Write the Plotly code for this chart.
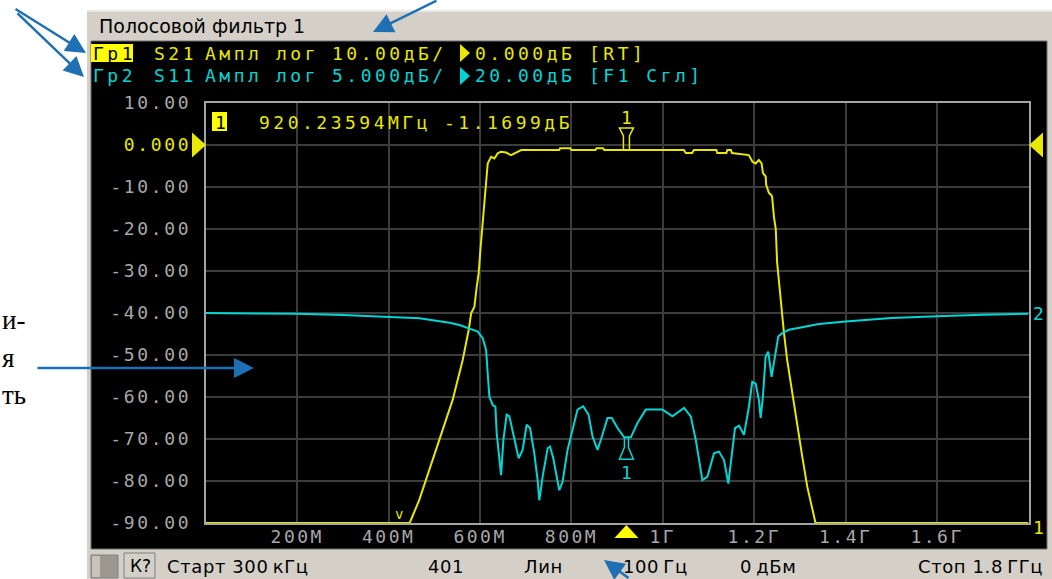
import plotly.graph_objects as go

W, H = 1052, 579
def px(x): return x / W
def py(y): return 1 - y / H

# ---------------- data ----------------
S21_FREQ_MHZ = [0.3, 446, 467, 511, 540, 562, 571.7, 575.2, 580.4, 587.6, 592.7, 597, 600.7, 604.4,
                607.3, 613.2, 616.7, 620.4, 624.1, 631.3, 638.5, 646, 656.9, 667.8, 678.7, 686, 690,
                773, 775, 797, 800, 852, 855, 869, 872, 920.24, 1046, 1050, 1064, 1068, 1117, 1119,
                1139, 1141, 1149, 1151, 1184, 1188, 1196, 1203, 1210, 1216, 1219, 1225, 1226, 1232,
                1237, 1239, 1243, 1247, 1250, 1254, 1258, 1261, 1265, 1272, 1283, 1294, 1305, 1316,
                1330, 1334, 1800]
S21_DB = [-90, -90, -84.5, -70.2, -60.7, -51.2, -46.4, -44, -40.1, -38.5, -33.7, -30.5, -25, -20.2,
          -14.7, -9.1, -4.4, -3.6, -2.8, -3.2, -2.0, -1.6, -1.8, -2.4, -1.8, -1.4, -1.2,
          -1.2, -0.8, -0.8, -1.2, -1.2, -0.8, -0.8, -1.2, -1.17, -1.2, -1.9, -1.9, -1.2, -1.2, -1.9,
          -1.9, -1.2, -1.2, -1.9, -2.2, -2.4, -4.0, -4.4, -3.6, -4.4, -6.7, -7.5, -9.5, -11.4,
          -11.9, -12.3, -17.1, -20, -28, -33, -37.6, -40, -44.8, -51.2, -59.1, -67.1, -74.2, -81.4,
          -88.5, -90, -90]

S11_FREQ_MHZ = [0.3, 100, 200, 300, 400, 467.5, 493, 533, 554.9, 576.7, 594.8, 605.8, 613.2, 616.7,
                620.4, 627.6, 633.5, 636.3, 642.2, 646, 651, 658.2, 664.1, 675, 684.4, 693.1, 701.9,
                709.3, 718.7, 725.9, 729.6, 736.8, 747.8, 753, 760.2, 773.3, 780.5, 791.4, 803.9,
                813.3, 825.7, 837.3, 846.1, 857, 866.6, 878.8, 888.4, 900.7, 915.3, 920.24, 929.9,
                944.4, 962.7, 999, 1020.8, 1046.4, 1061, 1072, 1086.4, 1097.3, 1111.9, 1122.8,
                1133.8, 1143.2, 1151.9, 1157.8, 1166.5, 1177.5, 1188.4, 1195.6, 1203, 1210.2, 1213.9,
                1218.9, 1224.8, 1230.5, 1237.9, 1245.1, 1252.4, 1261.1, 1275.8, 1304.8, 1341.3,
                1400, 1500, 1600, 1700, 1800]
S11_DB = [0.0, -0.05, -0.1, -0.25, -0.45, -0.63, -0.83, -1.15, -1.43, -1.82, -2.22, -3.0, -4.4, -7.2,
          -9.96, -10.95, -11.15, -14.3, -17.9, -19.3, -15.1, -12.1, -12.3, -15.1, -17.3, -16.3, -13.3,
          -13.7, -16.7, -19.9, -22.3, -19.5, -16.1, -15.9, -17.3, -21.1, -20.1, -16.3, -13.5,
          -11.5, -11.1, -12.1, -14.7, -16.3, -14.7, -12.5, -12.5, -13.7, -14.8, -14.8, -14.8,
          -13.1, -11.5, -11.5, -12.3, -11.3, -12.3, -15.1, -19.9, -19.5, -16.7, -16.5,
          -17.5, -20.3, -16.7, -13.7, -13.4, -14.5, -11.1, -8.2, -8.4, -10.4, -12.5,
          -9.96, -5.2, -4.6, -7.6, -5.2, -2.8, -2.4, -2.0, -1.7, -1.3,
          -1.0, -0.6, -0.4, -0.2, -0.1]

X_TICKS_MHZ = [200, 400, 600, 800, 1000, 1200, 1400, 1600]
X_TICK_LABELS = ["200M", "400M", "600M", "800M", "1Г", "1.2Г", "1.4Г", "1.6Г"]
Y_TICKS_DB = [10, 0, -10, -20, -30, -40, -50, -60, -70, -80, -90]
X_RANGE = [0.3, 1800]
S21_RANGE = [-90, 10]          # 10 dB/div, ref 0 dB
S11_RANGE = [-25, 25]          # 5 dB/div, ref 20 dB
REF_LEVEL_S21 = 0.0
MARKER_F = 920.23594
MARKER_S21 = -1.1699
MARKER_S11 = -14.8

# ---------------- style ----------------
YEL = "#e8e800"
YEL_BOX = "#ffff00"
CYA = "#00d6d6"
GRID = "#3c3c3c"
BORDER = "#a4a4a4"
TICKC = "#a8a8a8"
PANEL = "#d4d0c8"
MONO = "DejaVu Sans Mono"
SANS = "DejaVu Sans"
SERIF = "Liberation Serif"
BLUE = "#1f6fb4"

def sp(t, s=3.5):
    return f'<span style="letter-spacing:{s}px">{t}</span>'

ytext = []
for v in Y_TICKS_DB:
    if v == 0:
        ytext.append(sp(f'<span style="color:{YEL}">0.000</span>', 2.7))
    else:
        ytext.append(sp(f"{v:.2f}", 2.7))

fig = go.Figure()
fig.add_trace(go.Scatter(x=S21_FREQ_MHZ, y=S21_DB, mode="lines", yaxis="y",
                         line=dict(color=YEL, width=2), hoverinfo="skip"))
fig.add_trace(go.Scatter(x=S11_FREQ_MHZ, y=S11_DB, mode="lines", yaxis="y2",
                         line=dict(color=CYA, width=2), hoverinfo="skip"))

shapes = []
# window frame
shapes.append(dict(type="rect", xref="paper", yref="paper", x0=px(87), x1=px(1052), y0=py(579), y1=py(10),
                   fillcolor=PANEL, line=dict(width=0), layer="below"))
shapes.append(dict(type="line", xref="paper", yref="paper", x0=px(87), x1=px(1052), y0=py(11), y1=py(11),
                   line=dict(color="#ffffff", width=1), layer="below"))
shapes.append(dict(type="rect", xref="paper", yref="paper", x0=px(91), x1=px(1047), y0=py(549), y1=py(41),
                   fillcolor="#000000", line=dict(color="#6e6e6e", width=1), layer="below"))
# status bar widgets
shapes.append(dict(type="rect", xref="paper", yref="paper", x0=px(91), x1=px(118), y0=py(578), y1=py(555),
                   fillcolor="#9c9890", line=dict(color="#808080", width=1), layer="below"))
shapes.append(dict(type="rect", xref="paper", yref="paper", x0=px(92), x1=px(100), y0=py(577), y1=py(556),
                   fillcolor="#c8c4bc", line=dict(width=0), layer="below"))
shapes.append(dict(type="rect", xref="paper", yref="paper", x0=px(124), x1=px(155), y0=py(578), y1=py(553),
                   fillcolor=PANEL, line=dict(color="#808080", width=1), layer="below"))
# header: yellow box, trace triangles
shapes.append(dict(type="rect", xref="paper", yref="paper", x0=px(91), x1=px(133), y0=py(62), y1=py(44),
                   fillcolor=YEL_BOX, line=dict(width=0), layer="below"))
shapes.append(dict(type="path", xref="paper", yref="paper",
                   path=f"M {px(460)},{py(44)} L {px(470)},{py(53)} L {px(460)},{py(62)} Z",
                   fillcolor=YEL, line=dict(width=0), layer="below"))
shapes.append(dict(type="path", xref="paper", yref="paper",
                   path=f"M {px(460)},{py(67)} L {px(470)},{py(76)} L {px(460)},{py(85)} Z",
                   fillcolor=CYA, line=dict(width=0), layer="below"))
# marker readout box
shapes.append(dict(type="rect", xref="paper", yref="paper", x0=px(212), x1=px(227), y0=py(131), y1=py(112),
                   fillcolor=YEL_BOX, line=dict(width=0), layer="above"))
# reference level triangles (trace 1)
shapes.append(dict(type="path", xref="paper", yref="y", ysizemode="pixel", yanchor=REF_LEVEL_S21,
                   path=f"M {px(192)},12.5 L {px(206)},0 L {px(192)},-12.5 Z",
                   fillcolor=YEL, line=dict(width=0), layer="above"))
shapes.append(dict(type="path", xref="paper", yref="y", ysizemode="pixel", yanchor=REF_LEVEL_S21,
                   path=f"M {px(1043)},12.5 L {px(1029)},0 L {px(1043)},-12.5 Z",
                   fillcolor=YEL, line=dict(width=0), layer="above"))
# stimulus marker triangle under the axis
shapes.append(dict(type="path", xref="x", xsizemode="pixel", xanchor=MARKER_F,
                   yref="paper", ysizemode="pixel", yanchor=py(525),
                   path="M -12,-13 L 12,-13 L 0,0 Z", fillcolor=YEL_BOX, line=dict(width=0), layer="above"))
# marker symbols on traces
shapes.append(dict(type="path", xref="x", xsizemode="pixel", xanchor=MARKER_F,
                   yref="y", ysizemode="pixel", yanchor=MARKER_S21,
                   path="M -3,0 L -3,14 L -7,22 L 7,22 L 3,14 L 3,0",
                   line=dict(color=YEL, width=1.5), layer="above"))
shapes.append(dict(type="path", xref="x", xsizemode="pixel", xanchor=MARKER_F,
                   yref="y2", ysizemode="pixel", yanchor=MARKER_S11,
                   path="M -2,0 L -2,-10 L -7,-22 L 7,-22 L 2,-10 L 2,0",
                   line=dict(color=CYA, width=1.5), layer="above"))

ann = []
def txt(x, y, s, color, size=18, family=MONO, anchor="left", spacing=3.5):
    t = sp(s, spacing) if spacing else s
    ann.append(dict(x=px(x), y=py(y), xref="paper", yref="paper", text=t, showarrow=False,
                    xanchor=anchor, yanchor="middle", font=dict(family=family, size=size, color=color)))

# title bar
txt(97, 26, "Полосовой фильтр 1", "#000000", size=19, family=SANS, spacing=0)
# header lines
txt(91, 53, "Гр1", "#000000")
for x, s in [(152, "S21"), (203, "Ампл"), (274, "лог"), (330, "10.00дБ/"), (473, "0.000дБ"), (587, "[RT]")]:
    txt(x, 53, s, YEL)
for x, s in [(91, "Гр2"), (152, "S11"), (203, "Ампл"), (274, "лог"), (330, "5.000дБ/"), (473, "20.00дБ"), (587, "[F1 Сгл]")]:
    txt(x, 76, s, CYA)
# marker readout
txt(213, 122, "1", "#000000", spacing=0)
txt(257, 122, "920.23594МГц", YEL)
txt(442, 122, "-1.1699дБ", YEL)
# marker numbers on traces
ann.append(dict(x=MARKER_F, y=MARKER_S21, xref="x", yref="y", yshift=32, text="1", showarrow=False,
                font=dict(family=MONO, size=18, color=YEL)))
ann.append(dict(x=MARKER_F, y=MARKER_S11, xref="x", yref="y2", yshift=-35, text="1", showarrow=False,
                font=dict(family=MONO, size=18, color=CYA)))
# trace end labels
ann.append(dict(x=px(1031), y=S11_DB[-1], xref="paper", yref="y2", text="2", showarrow=False,
                xanchor="left", yanchor="middle", font=dict(family=MONO, size=18, color=CYA)))
ann.append(dict(x=px(1031), y=S21_DB[-1], xref="paper", yref="y", yshift=-4, text="1", showarrow=False,
                xanchor="left", yanchor="middle", font=dict(family=MONO, size=18, color=YEL)))
txt(393, 514, "v", YEL, size=14, spacing=0)
# status bar
txt(140, 566, "К?", "#000000", size=17, family=SANS, anchor="center", spacing=0)
txt(165, 566, "Старт 300\u2009кГц", "#000000", size=18, family=SANS, spacing=0.6)
txt(426, 566, "401", "#000000", size=18, family=SANS, spacing=0.6)
txt(522, 566, "Лин", "#000000", size=18, family=SANS, spacing=0.6)
txt(621, 566, "100\u2009Гц", "#000000", size=18, family=SANS, spacing=0.6)
txt(738, 566, "0\u2009дБм", "#000000", size=18, family=SANS, spacing=0.6)
txt(1045, 566, "Стоп 1.8\u2009ГГц", "#000000", size=18, family=SANS, anchor="right", spacing=0.6)
# outside callout text fragments (as visible at the page edge)
txt(0, 320, "и-", "#000000", size=27, family=SERIF, anchor="left", spacing=0)
txt(0, 358, "я", "#000000", size=27, family=SERIF, anchor="left", spacing=0)
txt(0, 395, "ть", "#000000", size=27, family=SERIF, anchor="left", spacing=0)

# callout arrows
def arrow(hx, hy, tx, ty):
    ann.append(dict(x=px(hx), y=py(hy), xref="paper", yref="paper", text="", showarrow=True,
                    ax=tx - hx, ay=ty - hy, arrowhead=2, arrowsize=1.6, arrowwidth=2.5,
                    arrowcolor=BLUE))
arrow(86, 53, 14, 8)
arrow(84, 77, 16, 12)
arrow(373, 32, 438, -2)
arrow(254, 368, 36, 368)
arrow(604, 560, 630, 584)

fig.update_layout(
    width=W, height=H,
    margin=dict(l=0, r=0, t=0, b=0, pad=0),
    paper_bgcolor="#ffffff",
    plot_bgcolor="rgba(0,0,0,0)",
    showlegend=False,
    hovermode=False,
    dragmode=False,
    shapes=shapes,
    annotations=ann,
    xaxis=dict(domain=[px(206), px(1028.5)], range=X_RANGE, tickvals=X_TICKS_MHZ,
               ticktext=[sp(t, 2.5) for t in X_TICK_LABELS], showgrid=True, gridcolor=GRID,
               gridwidth=2, zeroline=False, showline=True, mirror=True, linecolor=BORDER,
               linewidth=2, ticks="", ticklabelstandoff=-4, automargin=False,
               tickfont=dict(family=MONO, size=18, color=TICKC), fixedrange=True),
    yaxis=dict(domain=[py(523), py(103)], range=S21_RANGE, tickvals=Y_TICKS_DB, ticktext=ytext,
               showgrid=True, gridcolor=GRID, gridwidth=2, zeroline=False, showline=True,
               mirror=True, linecolor=BORDER, linewidth=2, ticks="", ticklabelstandoff=9,
               automargin=False, tickfont=dict(family=MONO, size=18, color=TICKC), fixedrange=True),
    yaxis2=dict(domain=[py(523), py(103)], range=S11_RANGE, overlaying="y", anchor="x",
                visible=False, showgrid=False, zeroline=False, fixedrange=True),
)

fig.write_html("out.html", config={"displayModeBar": False, "staticPlot": True},
               post_script="document.body.style.margin='0';document.body.style.overflow='hidden';")
